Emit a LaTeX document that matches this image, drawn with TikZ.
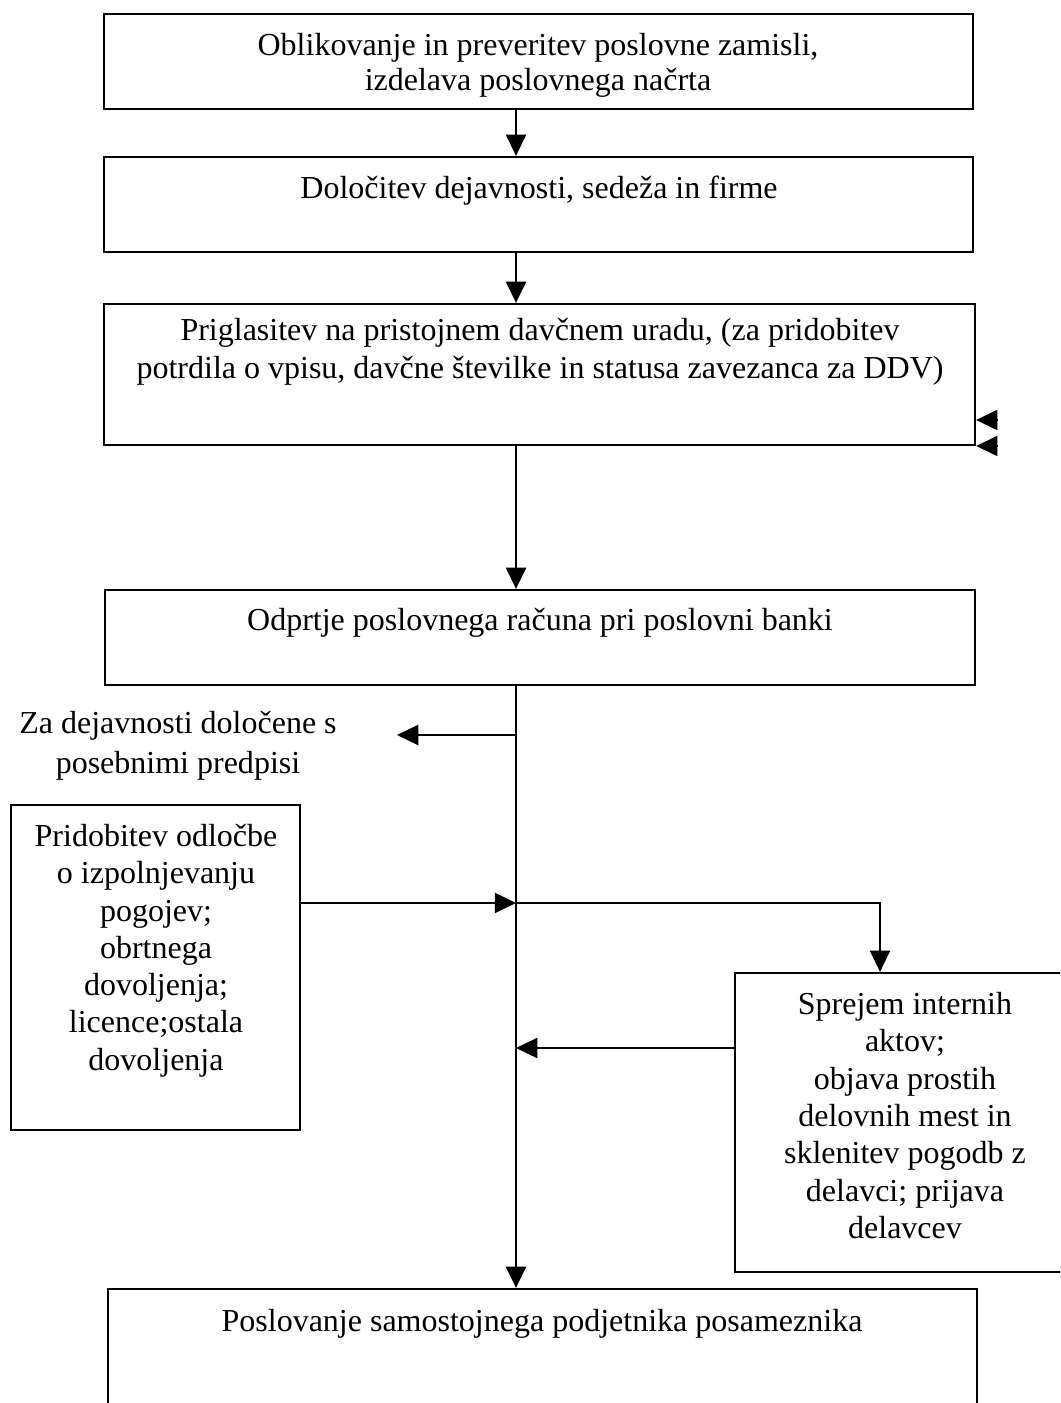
\documentclass[tikz,border=0pt]{standalone}
\usepackage{fontspec}
\setmainfont{Liberation Serif}
\usetikzlibrary{arrows.meta}

\tikzset{
  box/.style={draw,line width=0.9pt,inner sep=0pt},
  txt/.style={anchor=base,inner sep=0pt,font=\fontsize{12.8}{15}\selectfont},
  arr/.style={line width=0.9pt,-{Triangle[length=8.5pt,width=8pt]}}
}

\begin{document}
\begin{tikzpicture}[x=0.4pt,y=-0.4pt]
        \useasboundingbox (0,0) rectangle (1060,1403);
        \clip (0,0) rectangle (1060,1403);
        % boxes
        \node[box,minimum width=347.6pt,minimum height=38pt] (zamisel) at (538.5,61.5) {};
        \node[box,minimum width=347.6pt,minimum height=38pt] (firma) at (538.5,204.5) {};
        \node[box,minimum width=348.4pt,minimum height=56.4pt] (durad) at (539.5,374.5) {};
        \node[box,minimum width=348pt,minimum height=38pt] (banka) at (540,637.5) {};
        \node[box,minimum width=115.6pt,minimum height=130pt] (dovol) at (155.5,967.5) {};
        \node[box,minimum width=136pt,minimum height=119.6pt] (akti) at (905,1122.5) {};
        \node[box,minimum width=347.6pt,minimum height=56.4pt] (posl) at (542.5,1359.5) {};
        % text lines
        \foreach \x/\y/\t in {%
          538/56/{Oblikovanje in preveritev poslovne zamisli,},
          538/91/{izdelava poslovnega načrta},
          539/199/{Določitev dejavnosti, sedeža in firme},
          540/341/{Priglasitev na pristojnem davčnem uradu, (za pridobitev},
          540/379/{potrdila o vpisu, davčne številke in statusa zavezanca za DDV)},
          540/631/{Odprtje poslovnega računa pri poslovni banki},
          178/733/{Za dejavnosti določene s},
          178/773/{posebnimi predpisi},
          156/846/{Pridobitev odločbe}, 156/883/{o izpolnjevanju},
          156/921/{pogojev;}, 156/958/{obrtnega},
          156/995/{dovoljenja;}, 156/1032/{licence;ostala},
          156/1070/{dovoljenja},
          905/1014/{Sprejem internih}, 905/1051/{aktov;},
          905/1089/{objava prostih}, 905/1126/{delovnih mest in},
          905/1163/{sklenitev pogodb z}, 905/1201/{delavci; prijava},
          905/1238/{delavcev},
          542/1331/{Poslovanje samostojnega podjetnika posameznika}} {
            \node[txt] (t\y) at (\x,\y) {\t};
        }
        % connectors
        \coordinate (spine) at (516,0);
        \coordinate (za) at (397,735);
        \coordinate (j1) at (516,735);
        \coordinate (j2) at (516,903);
        \coordinate (j3) at (516,1048);
        \coordinate (k1) at (997,420);
        \coordinate (k2) at (997,446);
        \draw[arr] (zamisel.south -| spine) -- (firma.north -| spine);
        \draw[arr] (firma.south -| spine) -- (durad.north -| spine);
        \draw[arr] (durad.south -| spine) -- (banka.north -| spine);
        \draw[arr] (banka.south -| spine) -- (posl.north -| spine);
        \draw[arr] (j1) -- (za);
        \draw[arr] (dovol.east |- j2) -- (j2);
        \draw[arr] (j2) -| ([xshift=-10pt]akti.north);
        \draw[arr] (akti.west |- j3) -- (j3);
        \draw[arr] (k1) -- (durad.east |- k1);
        \draw[arr] (k2) -- (durad.east |- k2);
      \end{tikzpicture}
\end{document}
